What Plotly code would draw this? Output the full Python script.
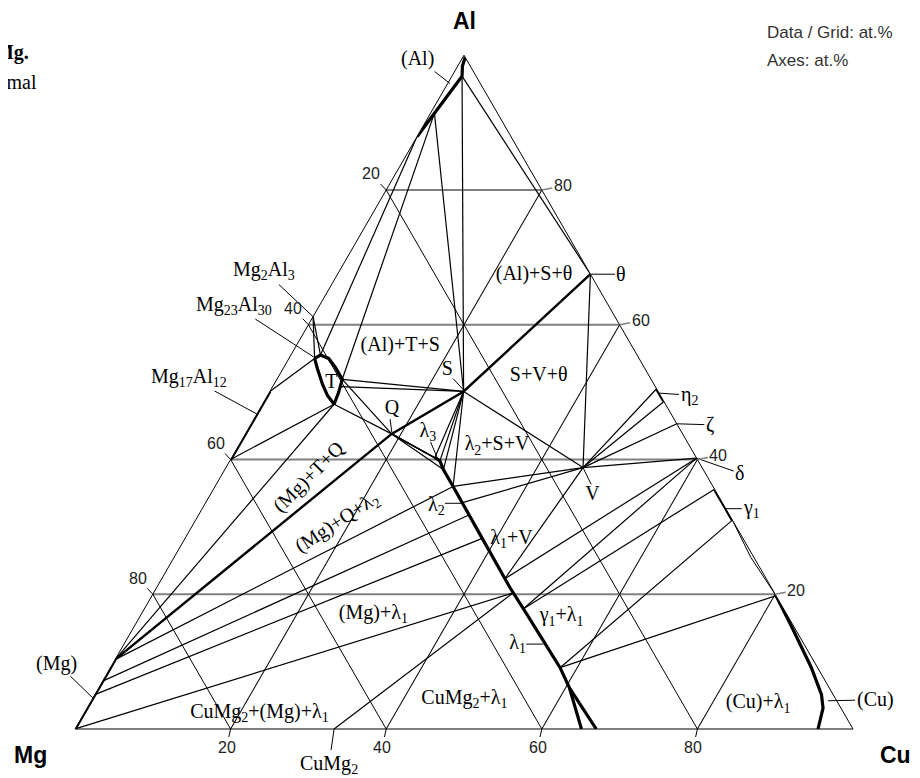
import plotly.graph_objects as go

# ------------------------------------------------------------------
# Compositions, as (Al at.%, Cu at.%); Mg = balance
# ------------------------------------------------------------------
AL_SOLVUS = [(99.7, 0.3), (98.4, 0.6), (96.9, 1.3), (91.4, 0.5), (87.9, 0.0)]
AL1, AL2, AL3 = AL_SOLVUS[2], AL_SOLVUS[3], AL_SOLVUS[4]

T_FIELD = [(55.0, 3.3), (55.5, 3.8), (55.0, 5.1), (53.7, 6.6), (51.9, 8.4), (50.0, 8.9),
           (48.2, 9.2), (49.5, 7.7), (51.2, 6.2), (53.5, 4.4), (55.0, 3.3)]
TTL, TT, TR, TB = T_FIELD[0], T_FIELD[1], T_FIELD[4], T_FIELD[6]
T_S2 = (50.8, 8.8)

MG2AL3 = (61.2, 0.0)
MG17AL12 = [(50.1, 0.0), (40.0, 0.0)]
MG_SOLVUS = [(0.0, 0.0), (5.1, 0.0), (7.1, 0.0), (10.3, 0.0)]
MG_CORNER, MG_MID, MG_B, MG_TOP = MG_SOLVUS
CUMG2 = (0.0, 33.3)

S = (50.1, 24.9)
Q = (43.8, 18.8)
V = (38.8, 45.9)
THETA = (67.5, 32.5)
ETA2 = [(50.5, 49.5), (48.6, 51.4)]
ZETA = (45.3, 54.7)
DELTA = (40.2, 59.8)
GAMMA1 = [(35.6, 64.4), (31.0, 69.0)]
GAMMA1_CU = [(31.0, 69.0), (25.5, 74.1), (19.8, 80.2)]
CU_SOLVUS = [(19.8, 80.2), (15.1, 84.6), (9.1, 90.1), (5.1, 93.4), (3.1, 94.6), (0.0, 95.5)]

LAVES = [(40.3, 26.1), (39.8, 27.0), (38.5, 28.1), (36.0, 30.6), (29.0, 37.5), (21.0, 45.4),
         (17.1, 49.5), (9.1, 57.8), (6.1, 60.5), (0.0, 65.1)]
LAVES_BRANCH = [(6.1, 60.5), (0.0, 67.0)]
B0, B1, B2, B3 = LAVES[0], LAVES[1], LAVES[2], LAVES[3]
B7 = LAVES[7]
QF1 = (40.0, 26.6)
PV1 = (33.6, 33.0)
PB = (31.8, 34.8)
PC = (28.3, 38.2)
PV2 = (22.3, 44.1)
PD = (20.2, 46.2)
PDELTA = (17.8, 48.7)

# heavy edge (Mg)-Q-S-theta
HEAVY_PATH = [MG_TOP, Q, S, THETA]

# thin tie lines
TIE_LINES = [
    (AL1, S), (AL1, THETA), (AL2, S), (AL2, TR), (AL3, TT),
    (MG2AL3, TT), (MG2AL3, TTL),
    (MG17AL12[0], TTL), (MG17AL12[1], TB),
    (TR, S), (T_S2, S), (TR, Q), (TB, Q),
    (MG_TOP, TB), (MG_TOP, B3), (MG_B, PB), (MG_MID, PC), (MG_CORNER, PD), (CUMG2, PD),
    (THETA, V), (S, V), (S, B0), (S, B1), (S, B2), (S, B3),
    (Q, B0), (Q, QF1), (Q, B1), (Q, B2),
    (V, B3), (V, PV1), (V, PV2), (V, DELTA), (V, ZETA), (V, ETA2[0]), (V, ETA2[1]),
    (DELTA, PV2), (DELTA, PDELTA), (GAMMA1[0], PDELTA), (GAMMA1[1], B7), (CU_SOLVUS[0], B7),
]

# leader lines that lie inside the triangle
LEADERS = [
    ((52.0, 22.6), (50.3, 24.8)),         # S
    (V, (36.3, 48.2)),                    # V
    ((42.6, 24.4), (40.3, 26.4)),         # lambda3
    ((46.0, 17.5), (44.05, 18.7)),        # Q
    ((33.5, 30.8), (33.5, 33.1)),         # lambda2
    ((12.6, 51.7), (12.6, 53.9)),         # lambda1
]

# phase-field labels inside the triangle: (text, Al, Cu)
LABELS = [
    ("(Al)+S+θ", 67.4, 25.3),
    ("(Al)+T+S", 56.8, 13.4),
    ("S", 53.3, 21.2),
    ("S+V+θ", 52.4, 33.4),
    ("V", 34.8, 49.1),
    ("(Cu)+λ<sub>1</sub>", 3.8, 85.9),
    ("λ<sub>3</sub>", 44.1, 23.3),
    ("Q", 47.5, 17.0),
    ("λ<sub>2</sub>+S+V", 42.1, 33.2),
    ("λ<sub>2</sub>", 33.1, 29.9),
    ("λ<sub>1</sub>+V", 28.2, 42.0),
    ("γ<sub>1</sub>+λ<sub>1</sub>", 16.7, 54.2),
    ("λ<sub>1</sub>", 12.6, 50.6),
    ("CuMg<sub>2</sub>+λ<sub>1</sub>", 4.5, 47.8),
    ("(Mg)+λ<sub>1</sub>", 17.1, 29.8),
    ("CuMg<sub>2</sub>+(Mg)+λ<sub>1</sub>", 2.4, 22.5),
    ("T", 51.3, 7.3),
]
# rotated labels: (text, Al, Cu, angle)
ROT_LABELS = [("(Mg)+T+Q", 37.5, 11.3, -45), ("(Mg)+Q+λ<sub>2</sub>", 30.6, 18.5, -33)]

# labels outside the triangle with a leader: (text, tip Al, tip Cu, text offset px)
OUT_LABELS = [
    ("(Al)", 95.8, 0.3, (-32, -25)),
    ("θ", 67.5, 32.5, (31, 0)),
    ("η<sub>2</sub>", 49.85, 50.15, (30, 2)),
    ("ζ", 45.3, 54.7, (33, 1)),
    ("δ", 40.2, 59.8, (43, 15)),
    ("γ<sub>1</sub>", 32.7, 67.3, (26, 0)),
    ("(Cu)", 4.19, 94.7, (47, -1)),
    ("(Mg)", 4.6, 0.0, (-36, -35)),
    ("CuMg<sub>2</sub>", 0.0, 33.3, (-5, 35)),
    ("Mg<sub>2</sub>Al<sub>3</sub>", 61.2, 0.0, (-49, -46)),
    ("Mg<sub>23</sub>Al<sub>30</sub>", 55.2, 3.1, (-80, -52)),
    ("Mg<sub>17</sub>Al<sub>12</sub>", 46.75, 0.0, (-68, -37)),
]

# grid / tick values (at.%)
TICK_VALS = [20, 40, 60, 80]
TICK_TEXT = ["20", "40", "60", "80"]

# ------------------------------------------------------------------
PAGE_OFF = 8                      # default body margin of the html page
W, H = 920 - PAGE_OFF, 778 - PAGE_OFF
TRI_LEFT, TRI_BOTTOM, TRI_W = 75.0, 729.0, 778.0       # page pixels
TRI_H = TRI_W * 3 ** 0.5 / 2
SERIF = "Liberation Serif, Times New Roman, serif"
SANS = "Liberation Sans, Arial, Helvetica, sans-serif"


def page_xy(al, cu):
    """page pixel position of a composition inside the ternary domain set below"""
    return TRI_LEFT + TRI_W * (cu + al / 2) / 100, TRI_BOTTOM - TRI_H * al / 100


def paper(px, py):
    return (px - PAGE_OFF) / W, 1 - (py - PAGE_OFF) / H


def abc(pts):
    a = [None if p is None else p[0] for p in pts]
    c = [None if p is None else p[1] for p in pts]
    b = [None if p is None else 100 - p[0] - p[1] for p in pts]
    return a, b, c


def join(paths):
    out = []
    for p in paths:
        out += list(p) + [None]
    return out


def line_trace(pts, width, color="black"):
    a, b, c = abc(pts)
    return go.Scatterternary(a=a, b=b, c=c, mode="lines",
                             line=dict(color=color, width=width),
                             connectgaps=False, cliponaxis=False,
                             hoverinfo="skip", showlegend=False)


fig = go.Figure()
fig.add_trace(line_trace(join(TIE_LINES), 1.2))
fig.add_trace(line_trace(join(LEADERS), 1.0))
fig.add_trace(line_trace(HEAVY_PATH, 2.4))
thick = [AL_SOLVUS, T_FIELD, MG17AL12, [MG_CORNER, MG_TOP], LAVES, LAVES_BRANCH,
         ETA2, GAMMA1, CU_SOLVUS]
fig.add_trace(line_trace(join(thick), 3.2))
fig.add_trace(line_trace(GAMMA1_CU, 1.0))

la, lb, lc = abc([(l[1], l[2]) for l in LABELS])
fig.add_trace(go.Scatterternary(a=la, b=lb, c=lc, mode="text",
                                text=[l[0] for l in LABELS],
                                textposition="middle center",
                                textfont=dict(family=SERIF, size=20, color="black"),
                                cliponaxis=False, hoverinfo="skip", showlegend=False))

axis_common = dict(showline=True, linecolor="black", linewidth=1,
                   ticks="", showticklabels=False, title=dict(text=""),
                   showgrid=True, min=0, tickmode="array",
                   tickvals=TICK_VALS)

# triangle placement (domain in figure fractions)
dom_y0 = 1 - (TRI_BOTTOM - PAGE_OFF) / H
dom_y1 = 1 - (TRI_BOTTOM - TRI_H - PAGE_OFF) / H
cx = TRI_LEFT + TRI_W / 2 - PAGE_OFF
dom_x0, dom_x1 = (cx - TRI_W / 2 - 12) / W, (cx + TRI_W / 2 + 12) / W

fig.update_layout(
    width=W, height=H,
    margin=dict(l=0, r=0, t=0, b=0),
    paper_bgcolor="white",
    ternary=dict(
        sum=100,
        bgcolor="white",
        domain=dict(x=[dom_x0, dom_x1], y=[dom_y0, dom_y1]),
        aaxis=dict(gridcolor="#808080", gridwidth=1.5, **axis_common),
        baxis=dict(gridcolor="black", gridwidth=0.8, **axis_common),
        caxis=dict(gridcolor="black", gridwidth=0.8, **axis_common),
    ),
)

ann = []
lab_font = dict(family=SERIF, size=20, color="black")
tick_font = dict(family=SANS, size=16, color="#222")
title_font = dict(family=SANS, size=23, color="black")

for txt, al, cu, ang in ROT_LABELS:
    x, y = paper(*page_xy(al, cu))
    ann.append(dict(text=txt, x=x, y=y, xref="paper", yref="paper", xanchor="center",
                    yanchor="middle", showarrow=False, textangle=ang, font=lab_font))

for txt, al, cu, (dx, dy) in OUT_LABELS:
    x, y = paper(*page_xy(al, cu))
    ann.append(dict(text=txt, x=x, y=y, xref="paper", yref="paper", ax=dx, ay=dy,
                    axref="pixel", ayref="pixel", showarrow=True, arrowhead=0,
                    arrowwidth=1, arrowcolor="black", standoff=0, font=lab_font))

# tick labels in the clockwise reading of the reference
for v, t in zip(TICK_VALS, TICK_TEXT):
    # left edge: Mg content (point where Al = 100 - v, Cu = 0)
    x, y = paper(*page_xy(100 - v, 0))
    ann.append(dict(text=t, x=x, y=y, xref="paper", yref="paper", ax=-15, ay=-16,
                    showarrow=True, arrowhead=0, arrowwidth=1, arrowcolor="black",
                    standoff=0, font=tick_font))
    # right edge: Al content (point where Al = v, Mg = 0)
    x, y = paper(*page_xy(v, 100 - v))
    ann.append(dict(text=t, x=x, y=y, xref="paper", yref="paper", ax=21, ay=-4,
                    showarrow=True, arrowhead=0, arrowwidth=1.5, arrowcolor="#808080",
                    standoff=0, font=tick_font))
    # bottom edge: Cu content (point where Cu = v, Al = 0)
    x, y = paper(*page_xy(0, v))
    ann.append(dict(text=t, x=x, y=y, xref="paper", yref="paper", ax=-4, ay=18,
                    showarrow=True, arrowhead=0, arrowwidth=1, arrowcolor="black",
                    standoff=0, font=tick_font))

# corner titles
for txt, px, py in [("<b>Al</b>", 464, 21), ("<b>Mg</b>", 30, 755), ("<b>Cu</b>", 895, 755)]:
    x, y = paper(px, py)
    ann.append(dict(text=txt, x=x, y=y, xref="paper", yref="paper", xanchor="center",
                    yanchor="middle", showarrow=False, borderpad=0, font=title_font))

# partly visible caption at the left page edge
x, y = paper(31, 53)
ann.append(dict(text="<b>Al-Cu-Mg.</b>", x=x, y=y, xref="paper", yref="paper",
                xanchor="right", yanchor="middle", showarrow=False, font=lab_font))
x, y = paper(39, 82)
ann.append(dict(text="Isothermal", x=x, y=y, xref="paper", yref="paper",
                xanchor="right", yanchor="middle", showarrow=False, font=lab_font))

x, y = paper(765, 32)
ann.append(dict(text="Data / Grid: at.%", x=x, y=y, xref="paper", yref="paper",
                xanchor="left", yanchor="middle", showarrow=False,
                font=dict(family=SANS, size=17, color="#333")))
x, y = paper(765, 60)
ann.append(dict(text="Axes: at.%", x=x, y=y, xref="paper", yref="paper",
                xanchor="left", yanchor="middle", showarrow=False,
                font=dict(family=SANS, size=17, color="#333")))
fig.update_layout(annotations=ann)

fig.write_html("out.html")
